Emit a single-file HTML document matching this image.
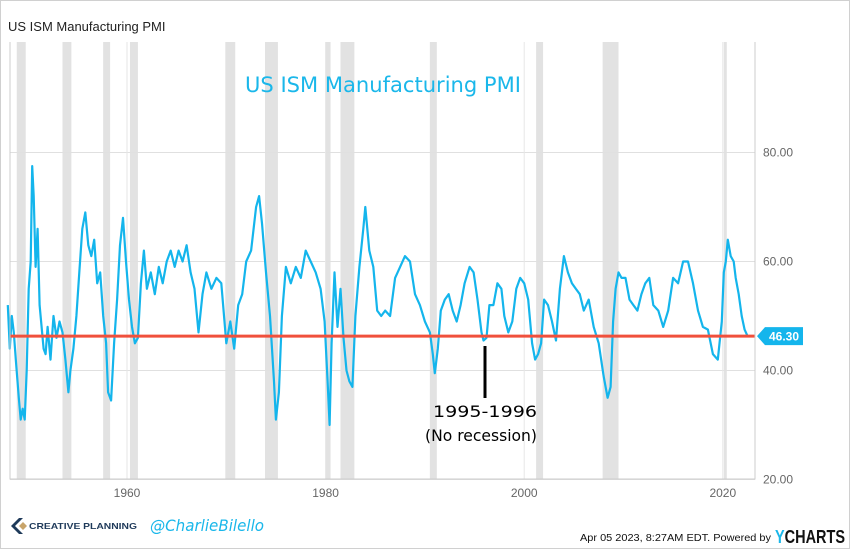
<!DOCTYPE html>
<html><head><meta charset="utf-8"><style>
body{margin:0;background:#fff;}
#wrap{position:relative;width:850px;height:549px;overflow:hidden;font-family:"Liberation Sans",sans-serif;}
</style></head><body>
<div id="wrap">
<svg id="chart" width="850" height="549">
<rect x="0.5" y="0.5" width="849" height="548" fill="#fff" stroke="#d0d0d0"/>
<text x="8" y="31" font-size="13" fill="#222">US ISM Manufacturing PMI</text>
<g id="bands"></g><g id="grid"></g>
<text x="383" y="92" text-anchor="middle" font-size="21" fill="#1ab7ea" font-family="'DejaVu Sans',sans-serif" textLength="276" lengthAdjust="spacingAndGlyphs">US ISM Manufacturing PMI</text>
<g id="series"></g><g id="axes"></g>
<line x1="485" y1="346" x2="485" y2="398" stroke="#000" stroke-width="3"/>
<text x="485" y="417" text-anchor="middle" font-size="16" fill="#000" font-family="'DejaVu Sans',sans-serif" textLength="104" lengthAdjust="spacingAndGlyphs">1995-1996</text>
<text x="481" y="441" text-anchor="middle" font-size="16" fill="#000" font-family="'DejaVu Sans',sans-serif" textLength="112" lengthAdjust="spacingAndGlyphs">(No recession)</text>
<g>
<path d="M19 518 l-8 8 8 8 4 0 -8-8 8-8z" fill="#1f3a5a"/><path d="M19 526 l4-4 4 4 -4 4z" fill="#c8a46a"/>
<text x="29" y="529" font-size="8.5" font-weight="bold" fill="#1f3a5a" textLength="108" lengthAdjust="spacingAndGlyphs">CREATIVE PLANNING</text></g>
<text x="150" y="531" font-size="16" fill="#1ab7ea" font-style="italic" font-family="'DejaVu Sans',sans-serif" textLength="114" lengthAdjust="spacingAndGlyphs">@CharlieBilello</text>
<text x="580" y="541" font-size="10" fill="#111" textLength="191" lengthAdjust="spacingAndGlyphs">Apr 05 2023, 8:27AM EDT.  Powered by</text>
<text x="775" y="543" font-size="18" font-weight="bold" fill="#111" textLength="70" lengthAdjust="spacingAndGlyphs"><tspan fill="#1ab7ea">Y</tspan>CHARTS</text>
</svg></div>
<script>
const tickValues=[20,40,60,80];
const yearTicks=[1960,1980,2000,2020];
const recessions=[[1948.9,1949.8],[1953.5,1954.4],[1957.6,1958.3],[1960.3,1961.1],[1969.9,1970.9],[1973.9,1975.2],[1980.0,1980.5],[1981.5,1982.9],[1990.5,1991.2],[2001.2,2001.9],[2007.9,2009.5],[2020.1,2020.3]];
const dates=[1948.0,1948.2,1948.4,1948.6,1948.8,1949.1,1949.3,1949.5,1949.7,1949.9,1950.1,1950.3,1950.45,1950.6,1950.8,1951.0,1951.2,1951.4,1951.6,1951.8,1952.0,1952.3,1952.6,1952.9,1953.2,1953.5,1953.8,1954.1,1954.3,1954.6,1954.9,1955.2,1955.5,1955.8,1956.1,1956.4,1956.7,1957.0,1957.3,1957.6,1957.9,1958.1,1958.4,1958.7,1959.0,1959.3,1959.6,1959.9,1960.2,1960.5,1960.8,1961.1,1961.4,1961.7,1962.0,1962.4,1962.8,1963.2,1963.6,1964.0,1964.4,1964.8,1965.2,1965.6,1966.0,1966.4,1966.8,1967.2,1967.6,1968.0,1968.5,1969.0,1969.5,1970.0,1970.4,1970.8,1971.2,1971.6,1972.0,1972.5,1973.0,1973.3,1973.6,1974.0,1974.4,1974.8,1975.0,1975.3,1975.6,1976.0,1976.5,1977.0,1977.5,1978.0,1978.5,1979.0,1979.5,1979.9,1980.2,1980.4,1980.6,1980.9,1981.2,1981.5,1981.8,1982.1,1982.4,1982.7,1983.0,1983.4,1983.8,1984.0,1984.4,1984.8,1985.2,1985.6,1986.0,1986.5,1987.0,1987.5,1988.0,1988.5,1989.0,1989.5,1990.0,1990.5,1990.8,1991.0,1991.3,1991.6,1992.0,1992.4,1992.8,1993.2,1993.6,1994.0,1994.5,1994.9,1995.3,1995.7,1995.9,1996.2,1996.5,1996.9,1997.3,1997.7,1998.0,1998.4,1998.8,1999.2,1999.6,2000.0,2000.4,2000.8,2001.1,2001.4,2001.7,2002.0,2002.4,2002.8,2003.2,2003.6,2004.0,2004.4,2004.8,2005.2,2005.6,2006.0,2006.5,2007.0,2007.5,2008.0,2008.4,2008.7,2008.95,2009.2,2009.5,2009.8,2010.2,2010.6,2011.0,2011.4,2011.8,2012.2,2012.6,2013.0,2013.5,2014.0,2014.5,2015.0,2015.5,2016.0,2016.5,2017.0,2017.5,2018.0,2018.5,2019.0,2019.5,2019.9,2020.1,2020.3,2020.5,2020.8,2021.1,2021.3,2021.6,2021.9,2022.2,2022.5,2022.8,2023.0,2023.2];
const values=[52,44,50,47,42,35,31,33,31,40,55,60,77.5,72,59,66,52,48,44,43,48,42,50,46,49,47,42,36,40,44,50,58,66,69,63,61,64,56,58,50,45,36,34.5,45,53,63,68,60,53,48,45,46,56,62,55,58,54,59,56,60,62,59,62,60,63,58,55,47,54,58,55,57,56,45,49,44,52,54,60,62,70,72,67,58,50,38,31,36,50,59,56,59,57,62,60,58,55,49,38,30,45,58,48,55,46,40,38,37,50,59,66,70,62,59,51,50,51,50,57,59,61,60,54,52,49,47,43,39.5,44,51,53,54,51,49,52,56,59,58,53,47,45.5,46,52,52,56,55,50,47,49,55,57,56,53,45,42,43,45,53,52,49,45.5,55,61,58,56,55,54,51,53,48,45,39,35,37,49,55,58,57,57,53,52,51,54,56,57,52,51,48,51,57,56,60,60,56,51,48,47.5,43,42,49,58,60,64,61,60,57,54,50,47.5,46.3];
const X0=10,X1=755,Y0=42,Y1=479;
const xs=y=>127+(y-1960)*9.93;
const ys=v=>152.5+(80-v)*5.45;
const NS='http://www.w3.org/2000/svg';
function mk(t,a,p){const e=document.createElementNS(NS,t);for(const k in a)e.setAttribute(k,a[k]);p.appendChild(e);return e;}
const bands=document.getElementById('bands'),grid=document.getElementById('grid'),ser=document.getElementById('series'),axes=document.getElementById('axes');
recessions.forEach(r=>{const e=mk('rect',{x:xs(r[0]),y:Y0,width:Math.max(3,xs(r[1])-xs(r[0])),height:Y1-Y0,fill:'#e2e2e2'},bands);

});
tickValues.forEach(v=>{const l=mk('line',{x1:X0,x2:X1,y1:ys(v),y2:ys(v),stroke:'#e0e0e0'},grid);


const t=mk('text',{x:763,y:ys(v)+4,'font-size':12,fill:'#666'},axes);t.textContent=v.toFixed(2);

});
yearTicks.forEach(y=>{const l=mk('line',{x1:xs(y),x2:xs(y),y1:Y0,y2:Y1,stroke:'#e6e6e6'},grid);


const t=mk('text',{x:xs(y),y:497,'font-size':12,fill:'#666','text-anchor':'middle'},axes);t.textContent=y;

});
const ax=mk('path',{d:`M${X0} ${Y0}V${Y1}H${X1}V${Y0}`,fill:'none',stroke:'#ccc'},axes);


const d=dates.map((t,i)=>(i?'L':'M')+xs(t).toFixed(1)+' '+ys(values[i]).toFixed(1)).join('');
const p=mk('path',{d:d,fill:'none',stroke:'#14b5ec','stroke-width':2.2,'stroke-linejoin':'round'},ser);


const last=values[values.length-1];
const rl=mk('line',{x1:X0,x2:X1,y1:ys(last),y2:ys(last),stroke:'#f0503c','stroke-width':3},ser);


const lb=mk('path',{d:`M757 ${ys(last)}l8 -9h38v18h-38z`,fill:'#14b5ec'},axes);


const lt=mk('text',{x:784,y:ys(last)+4.5,'font-size':12,'font-weight':'bold',fill:'#fff','text-anchor':'middle'},axes);lt.textContent=last.toFixed(2);


</script></body></html>
